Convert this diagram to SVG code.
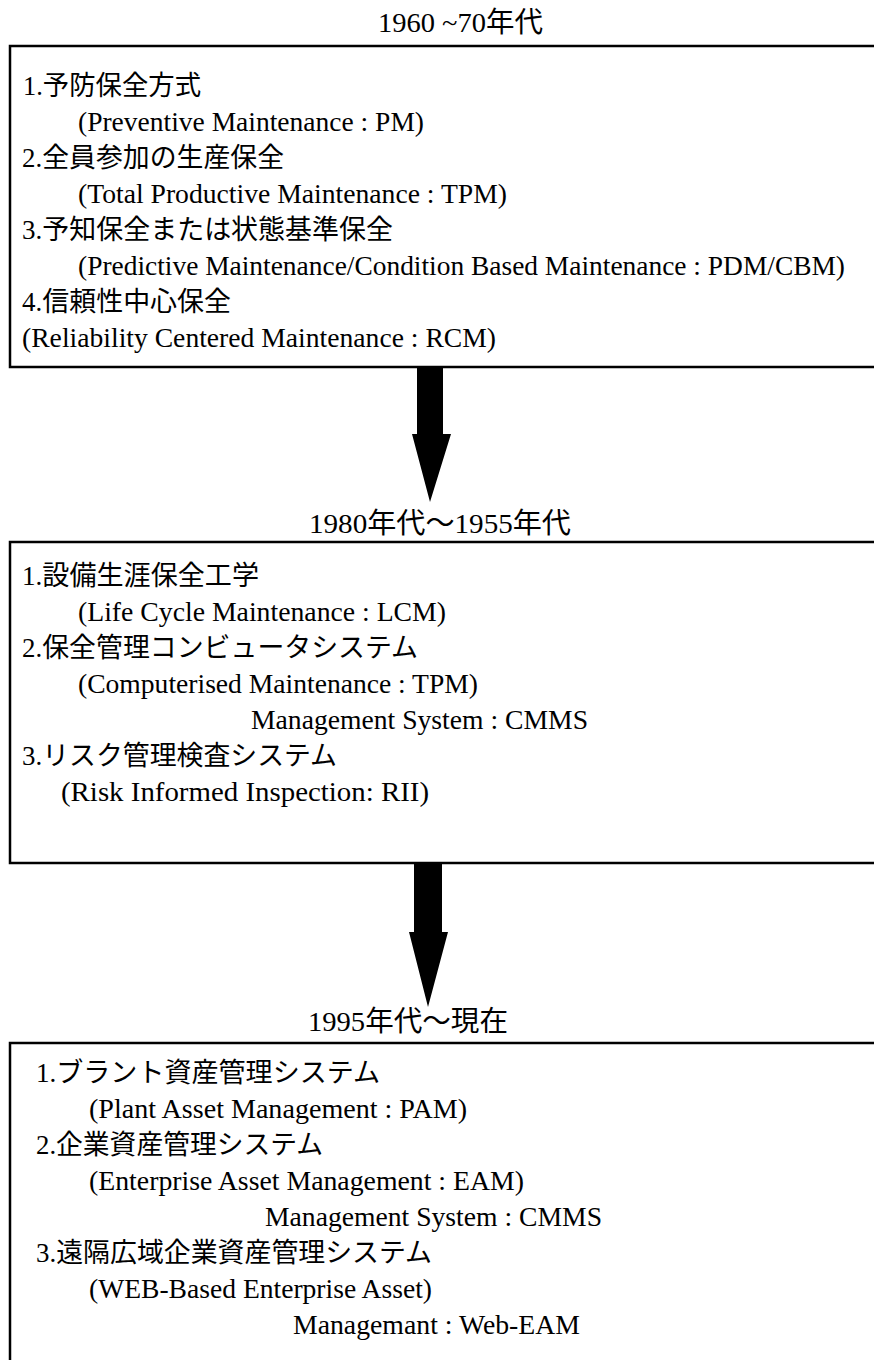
<svg xmlns="http://www.w3.org/2000/svg" width="874" height="1360" viewBox="0 0 874 1360">
<style>
  text { font-family: "Liberation Serif", "Noto Sans CJK JP", serif; font-size: 27px; fill: #000; }
  .hd { font-size: 28px; }
  .box { fill: none; stroke: #000; stroke-width: 2.5; }
  .arrow { fill: #000; stroke: none; }
</style>
<rect width="874" height="1360" fill="#fff"/>

<g id="era-1960-70">
  <text class="hd" x="378" y="32" textLength="165" lengthAdjust="spacingAndGlyphs">1960 ~70年代</text>
  <rect class="box" x="10" y="46" width="900" height="321"/>
  <text x="23" y="95" textLength="178" lengthAdjust="spacingAndGlyphs">1.予防保全方式</text>
  <text x="78" y="131" textLength="346" lengthAdjust="spacingAndGlyphs">(Preventive Maintenance : PM)</text>
  <text x="22" y="167" textLength="262" lengthAdjust="spacingAndGlyphs">2.全員参加の生産保全</text>
  <text x="78" y="203" textLength="429" lengthAdjust="spacingAndGlyphs">(Total Productive Maintenance :  TPM)</text>
  <text x="22" y="239" textLength="371" lengthAdjust="spacingAndGlyphs">3.予知保全または状態基準保全</text>
  <text x="78" y="275" textLength="767" lengthAdjust="spacingAndGlyphs">(Predictive Maintenance/Condition Based Maintenance : PDM/CBM)</text>
  <text x="22" y="311" textLength="209" lengthAdjust="spacingAndGlyphs">4.信頼性中心保全</text>
  <text x="22" y="347" textLength="474" lengthAdjust="spacingAndGlyphs">(Reliability Centered Maintenance : RCM)</text>
</g>

<g id="era-1980-1955">
  <text class="hd" x="309" y="533" textLength="262" lengthAdjust="spacingAndGlyphs">1980年代〜1955年代</text>
  <rect class="box" x="10" y="542" width="900" height="321"/>
  <text x="22" y="585" textLength="237" lengthAdjust="spacingAndGlyphs">1.設備生涯保全工学</text>
  <text x="78" y="621" textLength="368" lengthAdjust="spacingAndGlyphs">(Life Cycle Maintenance : LCM)</text>
  <text x="22" y="657" textLength="396" lengthAdjust="spacingAndGlyphs">2.保全管理コンビュータシステム</text>
  <text x="78" y="693" textLength="400" lengthAdjust="spacingAndGlyphs">(Computerised Maintenance : TPM)</text>
  <text x="251" y="729" textLength="337" lengthAdjust="spacingAndGlyphs">Management System : CMMS</text>
  <text x="22" y="765" textLength="315" lengthAdjust="spacingAndGlyphs">3.リスク管理検査システム</text>
  <text x="61" y="801" textLength="368" lengthAdjust="spacingAndGlyphs">(Risk Informed Inspection: RII)</text>
</g>

<g id="era-1995-now">
  <text class="hd" x="308" y="1031" textLength="200" lengthAdjust="spacingAndGlyphs">1995年代〜現在</text>
  <rect class="box" x="10" y="1043" width="900" height="340"/>
  <text x="36" y="1082" textLength="344" lengthAdjust="spacingAndGlyphs">1.ブラント資産管理システム</text>
  <text x="89" y="1118" textLength="378" lengthAdjust="spacingAndGlyphs">(Plant Asset Management : PAM)</text>
  <text x="36" y="1154" textLength="287" lengthAdjust="spacingAndGlyphs">2.企業資産管理システム</text>
  <text x="89" y="1190" textLength="435" lengthAdjust="spacingAndGlyphs">(Enterprise Asset Management : EAM)</text>
  <text x="265" y="1226" textLength="337" lengthAdjust="spacingAndGlyphs">Management System : CMMS</text>
  <text x="36" y="1262" textLength="396" lengthAdjust="spacingAndGlyphs">3.遠隔広域企業資産管理システム</text>
  <text x="89" y="1298" textLength="343" lengthAdjust="spacingAndGlyphs">(WEB-Based Enterprise Asset)</text>
  <text x="293" y="1334" textLength="287" lengthAdjust="spacingAndGlyphs">Managemant : Web-EAM</text>
</g>

<g id="connectors">
  <path class="arrow" d="M417,368 H443 V434 H451 L430,502 L412,434 H417 Z"/>
  <path class="arrow" d="M414,864 H442 V932 H448 L428,1007 L409,932 H414 Z"/>
</g>
</svg>
